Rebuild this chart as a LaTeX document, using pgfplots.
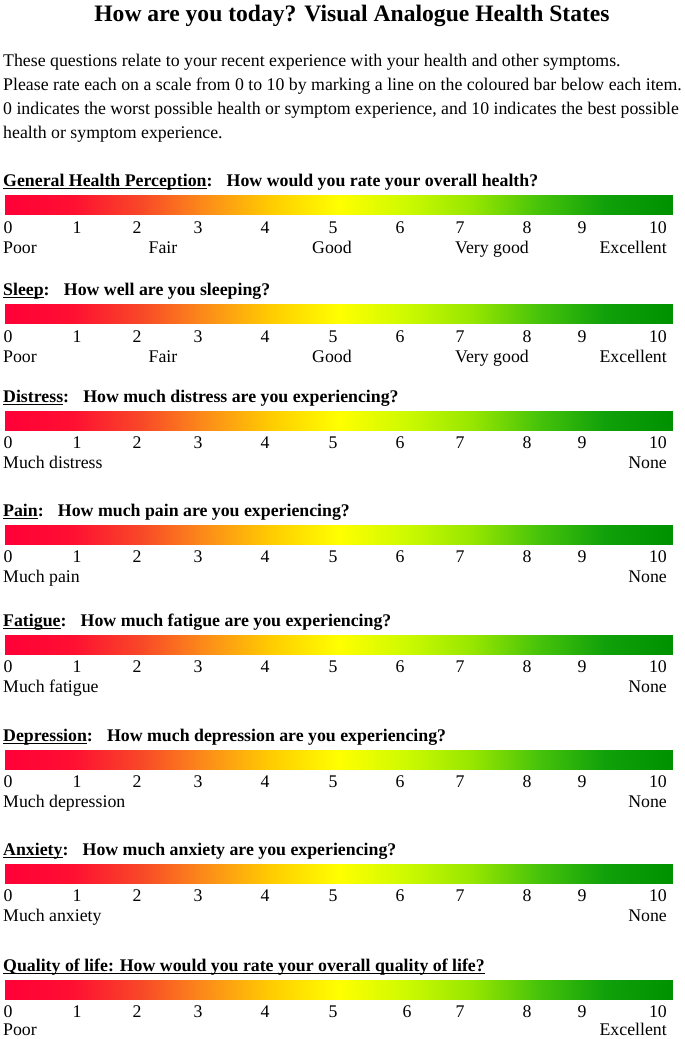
\documentclass[border=0pt]{standalone}
\usepackage{fontspec}
\setmainfont{Liberation Serif}
\usepackage{pgfplots}
\usepackage{pgfplotstable}
\pgfplotsset{compat=1.18}

% one bar: 2 scanlines x 11 columns, meta = scale value 0..10
\pgfplotstableread{
x dy v
5 0 0
71.8 0 1
138.6 0 2
205.4 0 3
272.2 0 4
339 0 5
405.8 0 6
472.6 0 7
539.4 0 8
606.2 0 9
673 0 10
5 1 0
71.8 1 1
138.6 1 2
205.4 1 3
272.2 1 4
339 1 5
405.8 1 6
472.6 1 7
539.4 1 8
606.2 1 9
673 1 10
}\bartab

\newcommand\ul[1]{\setbox0\hbox{#1}\leavevmode\rlap{\rule[-3.4pt]{\wd0}{1.8pt}}\box0}

% bar with its top edge at #1
\newcommand\vasbar[1]{%
  \addplot[surf, shader=interp, mesh/rows=2, mesh/cols=11,
    point meta=\thisrow{v}] table[x=x, y expr={#1+19*\thisrow{dy}}] {\bartab};}

% numbers 0..10 at baseline #1, "6" at x=#2
\newcommand\numrow[2]{%
  \node[anchor=base] at (axis cs:8,#1) {0};
  \node[anchor=base] at (axis cs:77,#1) {1};
  \node[anchor=base] at (axis cs:137,#1) {2};
  \node[anchor=base] at (axis cs:198,#1) {3};
  \node[anchor=base] at (axis cs:265,#1) {4};
  \node[anchor=base] at (axis cs:333,#1) {5};
  \node[anchor=base] at (axis cs:#2,#1) {6};
  \node[anchor=base] at (axis cs:460,#1) {7};
  \node[anchor=base] at (axis cs:527,#1) {8};
  \node[anchor=base] at (axis cs:582,#1) {9};
  \node[anchor=base east] at (axis cs:667,#1) {10};}

\begin{document}
\begin{tikzpicture}[font=\fontsize{17.8}{21}\selectfont, every node/.style={inner sep=0pt}]
\begin{axis}[
  width=685pt, height=1039pt, scale only axis,
  xmin=0, xmax=685, ymin=0, ymax=1039, y dir=reverse,
  axis lines=none, clip=false,
  colormap={vas}{rgb255=(255,0,55) rgb255=(255,15,50) rgb255=(248,70,40)
    rgb255=(252,140,25) rgb255=(255,205,0) rgb255=(255,255,0)
    rgb255=(205,250,0) rgb255=(150,230,0) rgb255=(70,195,10)
    rgb255=(15,160,10) rgb255=(0,145,0)},
  point meta min=0, point meta max=10,
]
% keep the whole page as the picture's frame
\path (rel axis cs:0,0) rectangle (rel axis cs:1,1);

\vasbar{195}
\vasbar{304}
\vasbar{411}
\vasbar{525}
\vasbar{635}
\vasbar{750}
\vasbar{864}
\vasbar{980}

\node[anchor=base, font=\fontsize{23.6}{26}\selectfont\bfseries] at (axis cs:352,21)
  {How are you today? Visual Analogue Health States};
\node[anchor=base west] at (axis cs:3,66) {These questions relate to your recent experience with your health and other symptoms.};
\node[anchor=base west] at (axis cs:3,90) {Please rate each on a scale from 0 to 10 by marking a line on the coloured bar below each item.};
\node[anchor=base west] at (axis cs:3,114) {0 indicates the worst possible health or symptom experience, and 10 indicates the best possible};
\node[anchor=base west] at (axis cs:3,138) {health or symptom experience.};

% General health
\node[anchor=base west] at (axis cs:3,186) {\bfseries\ul{General Health Perception}:\hspace{0.8em}How would you rate your overall health?};
\numrow{233}{400}
\node[anchor=base west] at (axis cs:3,253) {Poor};
\node[anchor=base] at (axis cs:163,253) {Fair};
\node[anchor=base] at (axis cs:332,253) {Good};
\node[anchor=base] at (axis cs:492,253) {Very good};
\node[anchor=base east] at (axis cs:667,253) {Excellent};

% Sleep
\node[anchor=base west] at (axis cs:3,295) {\bfseries\ul{Sleep}:\hspace{0.8em}How well are you sleeping?};
\numrow{342}{400}
\node[anchor=base west] at (axis cs:3,362) {Poor};
\node[anchor=base] at (axis cs:163,362) {Fair};
\node[anchor=base] at (axis cs:332,362) {Good};
\node[anchor=base] at (axis cs:492,362) {Very good};
\node[anchor=base east] at (axis cs:667,362) {Excellent};

% Distress
\node[anchor=base west] at (axis cs:3,402) {\bfseries\ul{Distress}:\hspace{0.8em}How much distress are you experiencing?};
\numrow{448}{400}
\node[anchor=base west] at (axis cs:3,468) {Much distress};
\node[anchor=base east] at (axis cs:667,468) {None};

% Pain
\node[anchor=base west] at (axis cs:3,516) {\bfseries\ul{Pain}:\hspace{0.8em}How much pain are you experiencing?};
\numrow{562}{400}
\node[anchor=base west] at (axis cs:3,582) {Much pain};
\node[anchor=base east] at (axis cs:667,582) {None};

% Fatigue
\node[anchor=base west] at (axis cs:3,626) {\bfseries\ul{Fatigue}:\hspace{0.8em}How much fatigue are you experiencing?};
\numrow{672}{400}
\node[anchor=base west] at (axis cs:3,692) {Much fatigue};
\node[anchor=base east] at (axis cs:667,692) {None};

% Depression
\node[anchor=base west] at (axis cs:3,741) {\bfseries\ul{Depression}:\hspace{0.8em}How much depression are you experiencing?};
\numrow{787}{400}
\node[anchor=base west] at (axis cs:3,807) {Much depression};
\node[anchor=base east] at (axis cs:667,807) {None};

% Anxiety
\node[anchor=base west] at (axis cs:3,855) {\bfseries\ul{Anxiety}:\hspace{0.8em}How much anxiety are you experiencing?};
\numrow{901}{400}
\node[anchor=base west] at (axis cs:3,921) {Much anxiety};
\node[anchor=base east] at (axis cs:667,921) {None};

% Quality of life
\node[anchor=base west] at (axis cs:3,971) {\bfseries\ul{Quality of life: How would you rate your overall quality of life?}};
\numrow{1017}{407}
\node[anchor=base west] at (axis cs:3,1035) {Poor};
\node[anchor=base east] at (axis cs:667,1035) {Excellent};
\end{axis}
\end{tikzpicture}
\end{document}
